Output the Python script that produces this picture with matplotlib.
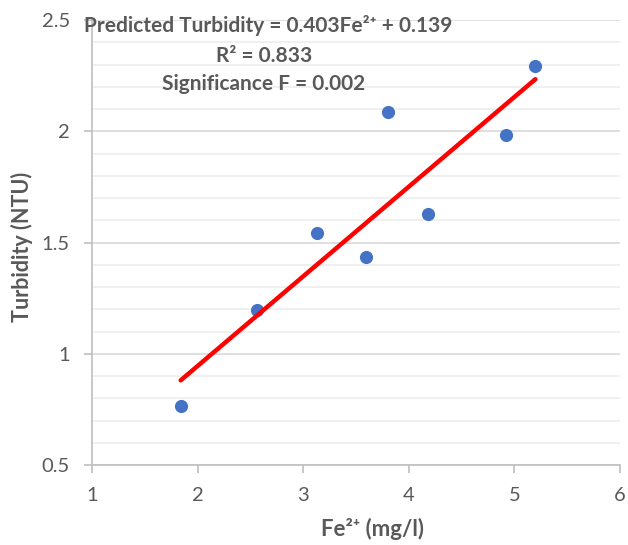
import numpy as np
import matplotlib.pyplot as plt
from matplotlib.ticker import MultipleLocator

# data
fe = [1.84, 2.56, 3.13, 3.60, 3.80, 4.18, 4.92, 5.20]
turbidity = [0.765, 1.197, 1.543, 1.435, 2.087, 1.628, 1.983, 2.293]
slope = 0.403
intercept = 0.139

plt.rcParams['font.family'] = ['Lato', 'DejaVu Sans']
grey = '#595959'

fig = plt.figure(figsize=(6.28, 5.45), dpi=100)
ax = fig.add_axes([0.1465, 0.1468, 0.8405, 0.8162])

ax.scatter(fe, turbidity, s=90, color='#4472C4', zorder=3, linewidths=0)
xfit = np.array([min(fe), max(fe)])
ax.plot(xfit, slope * xfit + intercept, color='#FF0000', lw=3.2, solid_capstyle='round', zorder=4)

ax.set_xlim(1, 6)
ax.set_ylim(0.5, 2.5)
ax.xaxis.set_major_locator(MultipleLocator(1))
ax.yaxis.set_major_locator(MultipleLocator(0.5))
ax.yaxis.set_minor_locator(MultipleLocator(0.1))
ax.yaxis.set_major_formatter(plt.FuncFormatter(lambda v, p: f'{v:g}'))
ax.grid(axis='y', which='major', color='#D9D9D9', lw=1.2)
ax.grid(axis='y', which='minor', color='#EEEEEE', lw=1.2)
ax.set_axisbelow(True)

for s in ['top', 'right']:
    ax.spines[s].set_visible(False)
for s in ['left', 'bottom']:
    ax.spines[s].set_color('#BFBFBF')
    ax.spines[s].set_linewidth(1.2)
ax.tick_params(axis='both', which='major', colors='#BFBFBF', labelcolor=grey, labelsize=14.5, length=6, width=1.2)
ax.tick_params(axis='y', which='minor', length=0)
ax.tick_params(axis='y', pad=10)
ax.tick_params(axis='x', pad=10)

ax.set_xlabel('Fe²⁺ (mg/l)', fontsize=16, fontweight='bold', color=grey)
ax.set_ylabel('Turbidity (NTU)', fontsize=15.5, fontweight='bold', color=grey)
ax.xaxis.set_label_coords(0.532, -0.118)
ax.yaxis.set_label_coords(-0.112, 0.49)

fig.text(268 / 628, 1 - 26 / 545, 'Predicted Turbidity = 0.403Fe²⁺ + 0.139', ha='center', va='center',
         fontsize=15, fontweight='bold', color=grey)
fig.text(264 / 628, 1 - 56 / 545, 'R² = 0.833', ha='center', va='center',
         fontsize=15, fontweight='bold', color=grey)
fig.text(264 / 628, 1 - 84 / 545, 'Significance F = 0.002', ha='center', va='center',
         fontsize=15, fontweight='bold', color=grey)

fig.savefig('out.png', dpi=100)
